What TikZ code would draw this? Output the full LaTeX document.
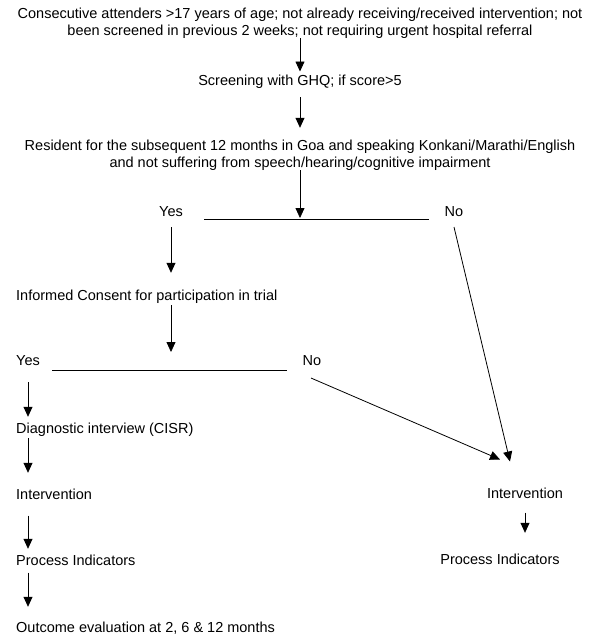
\documentclass[tikz,border=0pt]{standalone}
\usepackage{fontspec}
\setmainfont{Liberation Sans}
\usetikzlibrary{arrows.meta}

\tikzset{
    txt/.style = {font=\fontsize{14.5}{17}\selectfont, inner sep=0pt, anchor=north},
    txtl/.style = {txt, anchor=north west},
    arr/.style = {-{Triangle[width=9pt, length=10pt]}, line width=0.8pt},
    bar/.style = {line width=0.8pt},
}

\begin{document}
\begin{tikzpicture}[x=1pt, y=-1pt]
        \useasboundingbox (0, 0) rectangle (600, 640);

        % screening steps
        \node [txt, align=center] (attenders) at (300, 7.5)
            {Consecutive attenders >17 years of age; not already receiving/received intervention; not\\been screened in previous 2 weeks; not requiring urgent hospital referral};
        \node [txt] (screening) at (300, 74.5) {Screening with GHQ; if score>5};
        \node [txt, align=center] (resident) at (300, 139.5)
            {Resident for the subsequent 12 months in Goa and speaking Konkani/Marathi/English\\and not suffering from speech/hearing/cognitive impairment};
        \node [txt] (yesA) at (171, 206.5) {Yes};
        \node [txt] (noA) at (454, 206.5) {No};
        \node [txtl] (consent) at (16, 289.5) {Informed Consent for participation in trial};
        \node [txt] (yesB) at (28, 355.5) {Yes};
        \node [txt] (noB) at (312, 355.5) {No};

        % left column
        \node [txtl] (diagnostic) at (16, 422.5) {Diagnostic interview (CISR)};
        \node [txtl] (interventionL) at (16, 488.5) {Intervention};
        \node [txtl] (processL) at (16, 554.5) {Process Indicators};
        \node [txtl] (outcome) at (16, 621.5) {Outcome evaluation at 2, 6 \& 12 months};

        % right column
        \node [txt] (interventionR) at (525, 487.5) {Intervention};
        \node [txt] (processR) at (500, 553.5) {Process Indicators};

        \coordinate (barA1) at (204, 219);
        \coordinate (barA2) at (429, 219);
        \coordinate (barB1) at (52, 370);
        \coordinate (barB2) at (287, 370);
        \draw [bar] (barA1) -- (barA2);
        \draw [bar] (barB1) -- (barB2);

        \draw [arr, shorten >=3pt] (attenders.south) -- (screening.north);
        \draw [arr, shorten <=9pt, shorten >=11.7pt] (screening.south) -- (resident.north);
        \draw [arr, shorten >=1pt] (resident.south) -- (resident.south |- barA1);
        \draw [arr, shorten <=10pt, shorten >=16.7pt] (yesA.south) -- (yesA.south |- consent.north);
        \draw [arr, shorten <=2pt, shorten >=18pt] (consent.south -| yesA) -- (yesA |- barB1);
        \draw [arr, shorten <=16pt, shorten >=5.7pt] (yesB.south) -- (yesB.south |- diagnostic.north);
        \draw [arr, shorten <=2pt, shorten >=15.7pt] (diagnostic.south -| yesB) -- (yesB |- interventionL.north);
        \draw [arr, shorten <=16pt, shorten >=5.7pt] (interventionL.south -| yesB) -- (yesB |- processL.north);
        \draw [arr, shorten <=7pt, shorten >=14.7pt] (processL.south -| yesB) -- (yesB |- outcome.north);
        \draw [arr, shorten <=14pt, shorten >=20.7pt] (interventionR.south) -- (interventionR.south |- processR.north);

        % refusals
        \draw [arr] ([yshift=-10pt]noA.south) -- ([shift={(-15, -26)}]interventionR.north);
        \draw [arr] ([shift={(-1, 12)}]noB.south) -- ([shift={(-25, -28)}]interventionR.north);
    \end{tikzpicture}
\end{document}
